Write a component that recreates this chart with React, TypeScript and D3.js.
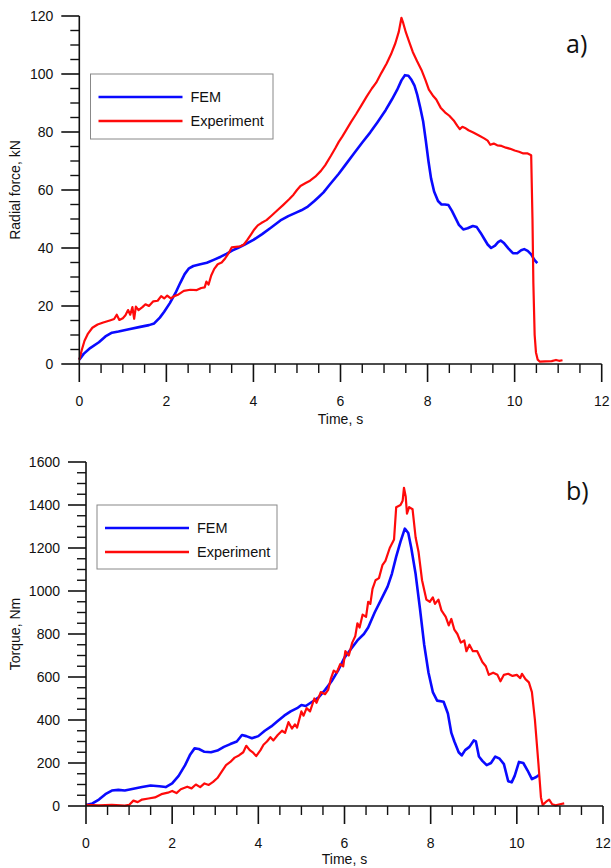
import React from "react";
import * as d3 from "d3";

type Pt = [number, number];

// ---- Data: Radial force (kN) vs time (s)
const forceFEM: Pt[] = [
  [0, 1.5], [0.1, 3.5], [0.25, 5.5], [0.45, 7.5], [0.6, 9.5], [0.75, 10.8], [0.9, 11.2], [1.14, 12], [1.4, 12.8], [1.6, 13.4], [1.72, 14],
  [1.85, 16], [1.95, 18], [2.08, 21], [2.21, 24.5], [2.32, 28], [2.42, 31], [2.52, 33], [2.62, 33.8], [2.78, 34.4], [2.93, 34.9],
  [3.1, 36], [3.25, 37], [3.38, 38], [3.52, 39.2], [3.64, 40], [3.8, 41.2], [4.0, 42.8], [4.2, 44.8], [4.4, 47], [4.62, 49.5],
  [4.8, 51], [4.98, 52.2], [5.1, 53], [5.25, 54.3], [5.4, 56.2], [5.5, 57.6], [5.61, 59.2], [5.75, 61.8], [5.96, 65.6], [6.1, 68.4],
  [6.3, 72.4], [6.5, 76.4], [6.68, 79.8], [6.85, 83.4], [7.04, 87.6], [7.18, 91.2], [7.3, 94.5], [7.4, 97.8], [7.48, 99.6], [7.56, 99.4],
  [7.63, 98], [7.7, 96], [7.76, 93], [7.83, 88.5], [7.9, 83.5], [7.96, 77], [8.02, 70], [8.08, 64], [8.15, 59.5], [8.24, 56.2], [8.32, 55],
  [8.4, 55], [8.48, 54.8], [8.56, 52.8], [8.64, 50.4], [8.72, 48], [8.82, 46.4], [8.92, 46.8], [9.04, 47.6], [9.13, 47.2], [9.22, 45.2],
  [9.3, 43.2], [9.38, 41.2], [9.46, 40], [9.55, 40.8], [9.62, 42], [9.68, 42.6], [9.76, 41.6], [9.86, 39.8], [9.96, 38.2], [10.06, 38.2],
  [10.15, 39.2], [10.22, 39.6], [10.3, 39], [10.38, 37.8], [10.45, 36], [10.52, 34.8]
];

const forceExp: Pt[] = [
  [0, 1.5], [0.06, 5], [0.12, 8], [0.2, 10.5], [0.3, 12.5], [0.42, 13.6], [0.55, 14.3], [0.7, 15], [0.8, 15.5], [0.86, 17], [0.92, 15.2],
  [1.0, 15.8], [1.06, 16.8], [1.12, 18.6], [1.17, 17], [1.22, 19.6], [1.26, 15.6], [1.3, 19.8], [1.36, 18.6], [1.45, 19.6], [1.52, 20.6],
  [1.6, 20], [1.7, 21.6], [1.8, 21.8], [1.88, 23.4], [1.95, 22.6], [2.02, 23.6], [2.1, 22.6], [2.18, 23.4], [2.28, 24], [2.4, 25.2],
  [2.55, 25.6], [2.7, 25.5], [2.8, 26.2], [2.88, 26.4], [2.92, 28.4], [2.97, 27.4], [3.03, 30.5], [3.1, 32.8], [3.18, 34.4], [3.27, 35],
  [3.35, 36.4], [3.43, 38.2], [3.5, 40.2], [3.6, 40.4], [3.7, 40.6], [3.78, 41.2], [3.86, 42.8], [3.95, 44.8], [4.02, 46.4],
  [4.1, 47.8], [4.18, 48.6], [4.3, 49.6], [4.42, 51.2], [4.55, 53], [4.68, 54.8], [4.82, 56.8], [4.92, 58.4], [5.0, 60], [5.08, 61.4],
  [5.2, 62.4], [5.3, 63.2], [5.42, 64.6], [5.55, 66.6], [5.65, 68.6], [5.78, 71.8], [5.88, 74.4], [5.96, 76.6], [6.04, 78.4],
  [6.12, 80.4], [6.24, 83.4], [6.36, 86.2], [6.48, 89.2], [6.6, 92.2], [6.72, 95], [6.82, 97], [6.94, 100.4], [7.06, 103.6],
  [7.16, 106.8], [7.26, 110.6], [7.34, 114.6], [7.4, 119.4], [7.44, 117.6], [7.5, 114.4], [7.58, 111], [7.66, 107.6], [7.76, 104.4],
  [7.86, 101.4], [7.95, 98], [8.03, 94.6], [8.12, 92.6], [8.2, 91.2], [8.3, 88.4], [8.4, 86.8], [8.5, 85.6], [8.6, 84], [8.68, 82.2],
  [8.74, 81], [8.8, 81.8], [8.86, 81.4], [8.94, 80.6], [9.05, 79.8], [9.18, 78.8], [9.3, 77.8], [9.38, 77], [9.44, 75.6], [9.52, 76],
  [9.6, 75.4], [9.7, 75.2], [9.8, 74.6], [9.9, 74.2], [10.0, 73.6], [10.1, 73.2], [10.2, 72.6], [10.3, 72.6], [10.38, 72],
  [10.41, 50], [10.43, 28], [10.46, 10], [10.49, 4], [10.53, 1.5], [10.58, 0.8], [10.7, 0.9], [10.85, 1], [10.95, 1.4], [11.02, 1.1], [11.1, 1.3]
];

// ---- Data: Torque (Nm) vs time (s)
const torqueFEM: Pt[] = [
  [0, 5], [0.15, 12], [0.3, 30], [0.45, 55], [0.6, 72], [0.75, 75], [0.9, 72], [1.1, 80], [1.3, 88], [1.5, 95], [1.7, 92],
  [1.85, 88], [2.0, 105], [2.15, 140], [2.3, 190], [2.42, 240], [2.52, 268], [2.62, 265], [2.75, 252], [2.9, 250], [3.05, 258],
  [3.2, 275], [3.35, 288], [3.5, 300], [3.62, 330], [3.72, 325], [3.85, 315], [4.0, 325], [4.15, 350], [4.3, 370], [4.45, 395],
  [4.6, 420], [4.75, 440], [4.9, 455], [5.0, 470], [5.1, 465], [5.25, 485], [5.4, 505], [5.55, 540], [5.7, 580], [5.85, 630],
  [6.0, 690], [6.15, 730], [6.3, 770], [6.45, 800], [6.55, 830], [6.7, 900], [6.85, 960], [7.0, 1020], [7.1, 1080], [7.2, 1160],
  [7.3, 1230], [7.4, 1290], [7.48, 1270], [7.55, 1200], [7.65, 1080], [7.75, 920], [7.85, 750], [7.95, 620], [8.05, 530],
  [8.15, 490], [8.3, 485], [8.4, 430], [8.48, 340], [8.55, 300], [8.65, 250], [8.72, 235], [8.8, 260], [8.9, 275], [9.0, 305],
  [9.05, 300], [9.12, 230], [9.2, 210], [9.3, 190], [9.4, 200], [9.5, 230], [9.6, 220], [9.7, 195], [9.8, 115], [9.88, 110],
  [9.95, 140], [10.05, 205], [10.15, 200], [10.25, 165], [10.35, 125], [10.45, 135], [10.52, 145]
];

const torqueExp: Pt[] = [
  [0, 5], [0.3, 3], [0.6, 5], [0.9, 2], [1.0, 5], [1.1, 25], [1.2, 18], [1.3, 30], [1.45, 35], [1.6, 40], [1.75, 55], [1.9, 62],
  [2.0, 70], [2.1, 60], [2.2, 78], [2.35, 90], [2.45, 82], [2.55, 100], [2.65, 88], [2.75, 105], [2.85, 98], [2.95, 112],
  [3.05, 130], [3.15, 160], [3.25, 190], [3.35, 205], [3.45, 225], [3.55, 235], [3.65, 250], [3.72, 280], [3.8, 260], [3.88, 248],
  [3.95, 232], [4.05, 260], [4.12, 285], [4.2, 300], [4.28, 320], [4.35, 305], [4.45, 330], [4.55, 350], [4.62, 340], [4.7, 390],
  [4.78, 360], [4.85, 380], [4.9, 365], [5.0, 440], [5.05, 420], [5.12, 455], [5.2, 440], [5.3, 500], [5.35, 480], [5.45, 530],
  [5.55, 520], [5.62, 540], [5.68, 590], [5.75, 630], [5.82, 620], [5.9, 660], [5.97, 650], [6.02, 720], [6.1, 700], [6.18, 760],
  [6.25, 790], [6.3, 850], [6.35, 830], [6.42, 890], [6.5, 880], [6.55, 950], [6.6, 940], [6.65, 1010], [6.72, 1050], [6.8, 1060],
  [6.88, 1120], [6.95, 1140], [7.05, 1200], [7.15, 1240], [7.2, 1390], [7.3, 1400], [7.35, 1420], [7.38, 1480], [7.42, 1440],
  [7.45, 1360], [7.5, 1390], [7.58, 1380], [7.65, 1250], [7.72, 1180], [7.8, 1050], [7.9, 960], [7.98, 950], [8.05, 970],
  [8.1, 940], [8.18, 960], [8.25, 910], [8.35, 880], [8.42, 840], [8.48, 870], [8.55, 820], [8.62, 800], [8.7, 760], [8.78, 770],
  [8.83, 720], [8.9, 750], [8.98, 720], [9.08, 720], [9.2, 670], [9.28, 650], [9.35, 610], [9.45, 620], [9.55, 610], [9.62, 580],
  [9.7, 610], [9.8, 615], [9.9, 605], [10.0, 610], [10.08, 595], [10.12, 615], [10.2, 590], [10.28, 575], [10.35, 530],
  [10.42, 400], [10.5, 200], [10.56, 40], [10.6, 5], [10.68, 20], [10.75, 30], [10.82, 8], [10.9, 3], [11.0, 8], [11.1, 12]
];

const xTicks = [0, 2, 4, 6, 8, 10, 12];
const forceTicks = [0, 20, 40, 60, 80, 100, 120];
const torqueTicks = [0, 200, 400, 600, 800, 1000, 1200, 1400, 1600];
const seriesNames = ["FEM", "Experiment"];
const seriesColors = ["#0a0aff", "#ff0a0a"];

const FONT = "'Liberation Sans', Arial, sans-serif";

interface PanelProps {
  x0: number; x1: number; y0: number; y1: number;
  yMax: number; yTicks: number[]; yMinorStep: number;
  fem: Pt[]; exp: Pt[];
  yTitle: string; tag: string;
  legend: { x: number; y: number; w: number; h: number };
  tagY: number; xTitleY: number;
}

function Panel(p: PanelProps) {
  const xs = d3.scaleLinear().domain([0, 12]).range([p.x0, p.x1]);
  const ys = d3.scaleLinear().domain([0, p.yMax]).range([p.y0, p.y1]);
  const line = d3.line<Pt>().x(d => xs(d[0])).y(d => ys(d[1]));
  const xMinor = d3.range(0, 12.001, 0.5).filter(v => Math.abs(v / 2 - Math.round(v / 2)) > 1e-6);
  const yMinor = d3.range(0, p.yMax + 1e-6, p.yMinorStep).filter(v => !p.yTicks.includes(v));
  const axisY = ys(0);
  const axisX = xs(0);
  const lg = p.legend;
  return (
    <g>
      {/* data */}
      <path d={line(p.fem) || ""} fill="none" stroke={seriesColors[0]} strokeWidth={2.6} strokeLinejoin="round" />
      <path d={line(p.exp) || ""} fill="none" stroke={seriesColors[1]} strokeWidth={2.2} strokeLinejoin="round" />
      {/* axes */}
      <line x1={axisX} x2={xs(12)} y1={axisY} y2={axisY} stroke="#111" strokeWidth={1.6} />
      <line x1={axisX} x2={axisX} y1={axisY} y2={ys(p.yMax)} stroke="#111" strokeWidth={1.6} />
      {xTicks.map(t => (
        <g key={"xt" + t}>
          <line x1={xs(t)} x2={xs(t)} y1={axisY} y2={axisY + 18} stroke="#111" strokeWidth={1.6} />
          <text x={xs(t)} y={axisY + 42} textAnchor="middle" fontSize={14} fontFamily={FONT} fill="#111">{t}</text>
        </g>
      ))}
      {xMinor.map(t => (
        <line key={"xm" + t} x1={xs(t)} x2={xs(t)} y1={axisY} y2={axisY + 9} stroke="#111" strokeWidth={1.4} />
      ))}
      {p.yTicks.map(t => (
        <g key={"yt" + t}>
          <line x1={axisX - 18} x2={axisX} y1={ys(t)} y2={ys(t)} stroke="#111" strokeWidth={1.6} />
          <text x={axisX - 26} y={ys(t) + 5} textAnchor="end" fontSize={14} fontFamily={FONT} fill="#111">{t}</text>
        </g>
      ))}
      {yMinor.map(t => (
        <line key={"ym" + t} x1={axisX - 9} x2={axisX} y1={ys(t)} y2={ys(t)} stroke="#111" strokeWidth={1.4} />
      ))}
      {/* titles */}
      <text x={(xs(0) + xs(12)) / 2} y={p.xTitleY} textAnchor="middle" fontSize={14} fontFamily={FONT} fill="#111">Time, s</text>
      <text transform={`translate(20,${(ys(0) + ys(p.yMax)) / 2}) rotate(-90)`} textAnchor="middle" fontSize={14} fontFamily={FONT} fill="#111">{p.yTitle}</text>
      <text x={566} y={p.tagY} fontSize={25} fontFamily="'Open Sans', 'Noto Sans', sans-serif" fill="#111">{p.tag}</text>
      {/* legend */}
      <rect x={lg.x} y={lg.y} width={lg.w} height={lg.h} fill="#fff" stroke="#888" strokeWidth={1} />
      {seriesNames.map((n, i) => (
        <g key={n}>
          <line x1={lg.x + 8} x2={lg.x + 92} y1={lg.y + 23 + i * 24} y2={lg.y + 23 + i * 24} stroke={seriesColors[i]} strokeWidth={2.6} />
          <text x={lg.x + 100} y={lg.y + 28 + i * 24} fontSize={14.5} fontFamily={FONT} fill="#111">{n}</text>
        </g>
      ))}
    </g>
  );
}

export default function App() {
  return (
    <svg width={611} height={868} style={{ position: "absolute", left: 0, top: 0, background: "#fff" }}>
      <rect width={611} height={868} fill="#fff" />
      <Panel x0={79.3} x1={601.7} y0={364} y1={16} yMax={120} yTicks={forceTicks} yMinorStep={5}
        fem={forceFEM} exp={forceExp} yTitle="Radial force, kN" tag="a)" tagY={53} xTitleY={424}
        legend={{ x: 90.5, y: 74, w: 182.5, h: 65 }} />
      <Panel x0={86} x1={603} y0={806} y1={462} yMax={1600} yTicks={torqueTicks} yMinorStep={50}
        fem={torqueFEM} exp={torqueExp} yTitle="Torque, Nm" tag="b)" tagY={500} xTitleY={864}
        legend={{ x: 97, y: 505, w: 180, h: 64 }} />
    </svg>
  );
}
